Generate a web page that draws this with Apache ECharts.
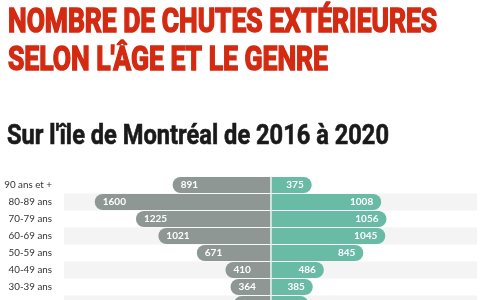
<!DOCTYPE html>
<html>
<head>
<meta charset="utf-8">
<script src="https://cdn.jsdelivr.net/npm/echarts@6/dist/echarts.min.js"></script>
<style>
  html, body { margin: 0; padding: 0; background: #fff; }
  #chart { width: 500px; height: 300px; }
</style>
</head>
<body>
<div id="chart"></div>
<script>
// tranches d'âge, du haut vers le bas
const ages = ['90 ans et +', '80-89 ans', '70-79 ans', '60-69 ans', '50-59 ans', '40-49 ans', '30-39 ans', '20-29 ans'];
// barres grises (gauche) et vertes (droite)
const gauche = [891, 1600, 1225, 1021, 671, 410, 364, 333];
const droite = [375, 1008, 1056, 1045, 845, 486, 385, 344];

const titre1 = 'NOMBRE DE CHUTES EXTÉRIEURES';
const titre2 = "SELON L'ÂGE ET LE GENRE";
const sousTitre = "Sur l'île de Montréal de 2016 à 2020";

// police étroite simulée : on mesure le texte puis on l'écrase en largeur
const ctx = document.createElement('canvas').getContext('2d');
function squeeze(text, font, width) {
  ctx.font = font;
  return width / ctx.measureText(text).width;
}

const fontTitre = 'bold 34px Roboto';
const fontSous = 'bold 27px Roboto';

function textEl(text, font, x, y, width, color, stroke) {
  return {
    type: 'text',
    x: x, y: y,
    originX: 0,
    scaleX: squeeze(text, font, width),
    style: {
      text: text, font: font, fill: color, verticalAlign: 'middle',
      stroke: color, lineWidth: stroke
    }
  };
}

const myChart = echarts.init(document.getElementById('chart'));
const option = {
  animation: false,
  graphic: [
    textEl(titre1, fontTitre, 8, 23, 429, '#d42a12', 1.6),
    textEl(titre2, fontTitre, 8, 61, 320, '#d42a12', 1.6),
    textEl(sousTitre, fontSous, 7, 137, 382, '#1a1a1a', 0.6)
  ],
  grid: {
    left: 64, right: 23, top: 176.5, height: 136,
    containLabel: false, outerBoundsMode: 'none'
  },
  xAxis: {
    type: 'value',
    min: -1880, max: 1880,
    show: false
  },
  yAxis: {
    type: 'category',
    data: ages,
    inverse: true,
    axisLine: { show: false },
    axisTick: { show: false },
    splitArea: { show: true, areaStyle: { color: ['rgba(255,255,255,0)', '#f4f4f4'] } },
    axisLabel: { color: '#333', fontSize: 9.8, margin: 12, fontFamily: 'Lato' }
  },
  series: [
    {
      type: 'bar',
      stack: 'tot',
      data: gauche.map(v => -v),
      barWidth: 16,
      itemStyle: { color: '#8f9795', borderRadius: [8, 0, 0, 8] },
      label: {
        show: true, position: 'insideLeft', distance: 8,
        color: '#fff', fontSize: 10, fontWeight: 'bold', fontFamily: 'Lato',
        formatter: p => -p.value
      },
      markLine: {
        silent: true, symbol: 'none',
        label: { show: false },
        lineStyle: { color: '#e8f0ee', width: 1.5, type: 'solid' },
        data: [{ xAxis: 0 }]
      },
      z: 2
    },
    {
      type: 'bar',
      stack: 'tot',
      data: droite,
      barWidth: 16,
      itemStyle: { color: '#69bba6', borderRadius: [0, 8, 8, 0] },
      label: {
        show: true, position: 'insideRight', distance: 8,
        color: '#fff', fontSize: 10, fontWeight: 'bold', fontFamily: 'Lato'
      },
      z: 2
    }
  ]
};
myChart.setOption(option);
window.addEventListener('resize', function () {
  myChart.resize();
});
</script>
</body>
</html>
